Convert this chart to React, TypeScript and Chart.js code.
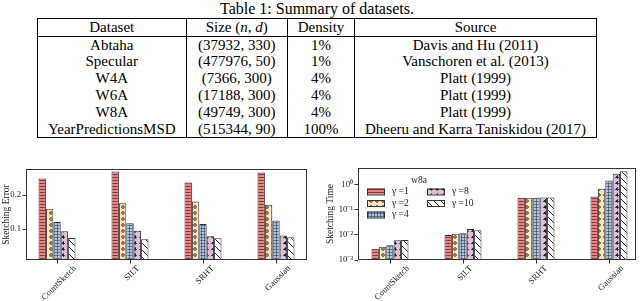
import React, { useEffect, useRef } from "react";
import { Chart, registerables } from "chart.js";

Chart.register(...registerables);

// ---------- table data ----------
const tableTitle = "Table 1: Summary of datasets.";
const datasetNames = ["Abtaha", "Specular", "W4A", "W6A", "W8A", "YearPredictionsMSD"];
const datasetSizes = ["(37932, 330)", "(477976, 50)", "(7366, 300)", "(17188, 300)", "(49749, 300)", "(515344, 90)"];
const datasetDensities = ["1%", "1%", "4%", "4%", "4%", "100%"];
const datasetSources = [
  "Davis and Hu (2011)",
  "Vanschoren et al. (2013)",
  "Platt (1999)",
  "Platt (1999)",
  "Platt (1999)",
  "Dheeru and Karra Taniskidou (2017)",
];

// ---------- chart data ----------
const methods = ["CountSketch", "SILT", "SRHT", "Gaussian"];
const gammaLabels = ["γ =1", "γ =2", "γ =4", "γ =8", "γ =10"];

const errGamma1 = [0.249, 0.27, 0.237, 0.267];
const errGamma2 = [0.16, 0.176, 0.181, 0.172];
const errGamma4 = [0.121, 0.117, 0.115, 0.125];
const errGamma8 = [0.094, 0.095, 0.079, 0.081];
const errGamma10 = [0.074, 0.07, 0.073, 0.076];

const timeGamma1 = [0.0028, 0.01, 0.3, 0.34];
const timeGamma2 = [0.0034, 0.011, 0.3, 0.69];
const timeGamma4 = [0.0039, 0.0117, 0.3, 1.45];
const timeGamma8 = [0.0061, 0.017, 0.31, 2.7];
const timeGamma10 = [0.0062, 0.0154, 0.31, 3.4];

const errTicks = [0.1, 0.2];
const errTickLabels = ["0.1", "0.2"];
const timeTicks = [0.001, 0.01, 0.1, 1];
const timeTickLabels = ["10⁻³", "10⁻²", "10⁻¹", "10⁰"];
const legendTitle = "w8a";

const FONT_FAMILY = '"Liberation Serif", "DejaVu Serif", serif';
const FONT_SIZE = 9.5;
const TICK_SIZE = 8.7;
const CANVAS_FONT = `${FONT_SIZE}px "Liberation Serif", serif`;
const TICK_FONT = `${TICK_SIZE}px "Liberation Serif", serif`;
const TEXT = "#222";
const EDGE = "#333";

function makePattern(kind: string): CanvasPattern | string {
  const c = document.createElement("canvas");
  const g = c.getContext("2d");
  if (!g) return "#ccc";
  if (kind === "h") {
    c.width = 4; c.height = 3;
    g.fillStyle = "#f27f7f"; g.fillRect(0, 0, 4, 3);
    g.fillStyle = "rgba(100,35,35,0.75)"; g.fillRect(0, 0, 4, 1);
  } else if (kind === "o") {
    c.width = 6; c.height = 6;
    g.fillStyle = "#fde3b3"; g.fillRect(0, 0, 6, 6);
    g.strokeStyle = "rgba(40,40,40,0.9)"; g.lineWidth = 1;
    g.beginPath(); g.arc(3, 3, 1.3, 0, Math.PI * 2); g.stroke();
  } else if (kind === "+") {
    c.width = 3; c.height = 3;
    g.fillStyle = "#a9c6e8"; g.fillRect(0, 0, 3, 3);
    g.fillStyle = "rgba(50,60,80,0.6)"; g.fillRect(0, 0, 3, 1); g.fillRect(0, 0, 1, 3);
  } else if (kind === "*") {
    c.width = 6; c.height = 6;
    g.fillStyle = "#dcbedc"; g.fillRect(0, 0, 6, 6);
    g.fillStyle = "rgba(30,30,30,0.9)";
    g.fillRect(2, 2, 2, 2);
    g.fillRect(3, 1, 0.8, 4);
    g.fillRect(1, 3, 4, 0.8);
  } else {
    c.width = 7; c.height = 7;
    g.fillStyle = "#ffffff"; g.fillRect(0, 0, 7, 7);
    g.strokeStyle = "#222"; g.lineWidth = 1;
    for (const k of [-7, 0, 7]) {
      g.beginPath(); g.moveTo(-1, -1 + k); g.lineTo(8, 8 + k); g.stroke();
    }
  }
  return g.createPattern(c, "repeat") || "#ccc";
}

const font = { family: FONT_FAMILY, size: FONT_SIZE };

// frame, x tick marks and tick labels, placed through the chart's own scales
function makeAxesPlugin(yTicks: number[], yLabels: string[]) {
  return {
    id: "axesDecor",
    afterDraw(chart: any) {
      const { ctx, chartArea: a, scales } = chart;
      ctx.save();
      ctx.strokeStyle = EDGE;
      ctx.lineWidth = 1;
      ctx.strokeRect(a.left + 0.5, a.top + 0.5, a.right - a.left - 1, a.bottom - a.top - 1);
      for (let i = 0; i < methods.length; i++) {
        const x = Math.round(scales.x.getPixelForValue(i)) + 0.5;
        ctx.beginPath();
        ctx.moveTo(x, a.bottom);
        ctx.lineTo(x, a.bottom + 3.5);
        ctx.stroke();
      }
      ctx.font = TICK_FONT;
      ctx.fillStyle = TEXT;
      ctx.textAlign = "right";
      ctx.textBaseline = "middle";
      yTicks.forEach((v, i) => {
        const y = scales.y.getPixelForValue(v);
        ctx.fillText(yLabels[i], a.left - 5, y);
      });
      const h = TICK_SIZE;
      methods.forEach((m, i) => {
        const w = ctx.measureText(m).width;
        const tx = scales.x.getPixelForValue(i) + 2;
        ctx.save();
        ctx.translate(tx + 0.3536 * w, a.bottom + 4 + 0.3536 * h);
        ctx.rotate(-Math.PI / 4);
        ctx.textAlign = "right";
        ctx.textBaseline = "middle";
        ctx.fillText(m, 0, 0);
        ctx.restore();
      });
      ctx.restore();
    },
  };
}

function makeLegendPlugin(patterns: (CanvasPattern | string)[]) {
  return {
    id: "gammaLegend",
    afterDraw(chart: any) {
      const { ctx } = chart;
      ctx.save();
      ctx.font = CANVAS_FONT;
      ctx.fillStyle = TEXT;
      ctx.textBaseline = "middle";
      ctx.textAlign = "center";
      ctx.fillText(legendTitle, 99, 30);
      ctx.textAlign = "left";
      const pos = [
        [47, 41.5], [47, 53], [47, 64.5], [107, 41.5], [107, 53],
      ];
      gammaLabels.forEach((lab, k) => {
        const [px, py] = pos[k];
        ctx.fillStyle = patterns[k];
        ctx.fillRect(px, py - 3, 17, 6);
        ctx.strokeStyle = EDGE;
        ctx.lineWidth = 1;
        ctx.strokeRect(px + 0.5, py - 3 + 0.5, 17, 6);
        ctx.fillStyle = TEXT;
        ctx.fillText(lab, px + 25, py);
      });
      ctx.restore();
    },
  };
}

function barConfig(
  series: number[][],
  patterns: (CanvasPattern | string)[],
  opts: {
    xmin: number; xmax: number; yType: string; ymin: number; ymax: number;
    yTicks: number[]; yLabels: string[]; yTitle: string; titlePad: number;
    yWidth: number; padTop: number; padRight: number; extraPlugins: any[];
  }
): any {
  return {
    type: "bar",
    data: {
      datasets: series.map((s, k) => ({
        label: gammaLabels[k],
        data: s.map((v, i) => ({ x: i, y: v })),
        backgroundColor: patterns[k],
        borderColor: EDGE,
        borderWidth: 1,
        categoryPercentage: 0.507,
        barPercentage: 1,
        clip: 0,
      })),
    },
    options: {
      animation: false,
      responsive: false,
      devicePixelRatio: 1,
      layout: { padding: { top: opts.padTop, right: opts.padRight, left: 0, bottom: 0 } },
      plugins: { legend: { display: false }, tooltip: { enabled: false } },
      scales: {
        x: {
          type: "linear",
          min: opts.xmin,
          max: opts.xmax,
          offset: false,
          grid: { display: false },
          border: { display: false },
          ticks: { display: false },
          afterFit: (s: any) => { s.height = 41; },
        },
        y: {
          type: opts.yType,
          min: opts.ymin,
          max: opts.ymax,
          grid: { display: true, drawOnChartArea: false, drawTicks: true, tickLength: 3.5, color: EDGE },
          border: { display: false },
          ticks: { display: false, autoSkip: false },
          afterBuildTicks: (s: any) => {
            s.ticks = opts.yTicks.map((v) => ({ value: v }));
          },
          title: {
            display: true,
            text: opts.yTitle,
            font,
            color: TEXT,
            padding: { top: opts.titlePad, bottom: 0 },
          },
          afterFit: (s: any) => { s.width = opts.yWidth; },
        },
      },
    },
    plugins: [makeAxesPlugin(opts.yTicks, opts.yLabels), ...opts.extraPlugins],
  };
}

const cellBase: React.CSSProperties = {
  padding: 0,
  textAlign: "center",
  whiteSpace: "nowrap",
  lineHeight: 1,
  borderLeft: "1px solid #000",
  borderRight: "1px solid #000",
};

export default function App() {
  const leftRef = useRef<HTMLCanvasElement>(null);
  const rightRef = useRef<HTMLCanvasElement>(null);

  useEffect(() => {
    const kinds = ["h", "o", "+", "*", "\\"];
    const patterns = kinds.map(makePattern);
    const c1 = new Chart(
      leftRef.current as HTMLCanvasElement,
      barConfig([errGamma1, errGamma2, errGamma4, errGamma8, errGamma10], patterns, {
        xmin: -0.425, xmax: 3.425, yType: "linear", ymin: 0.009, ymax: 0.277,
        yTicks: errTicks, yLabels: errTickLabels, yTitle: "Sketching Error", titlePad: 0.5,
        yWidth: 26, padTop: 19, padRight: 8, extraPlugins: [],
      })
    );
    const c2 = new Chart(
      rightRef.current as HTMLCanvasElement,
      barConfig([timeGamma1, timeGamma2, timeGamma4, timeGamma8, timeGamma10], patterns, {
        xmin: -0.438, xmax: 3.37, yType: "logarithmic", ymin: 0.001, ymax: 4.6,
        yTicks: timeTicks, yLabels: timeTickLabels, yTitle: "Sketching Time", titlePad: 5,
        yWidth: 38, padTop: 18, padRight: 4, extraPlugins: [makeLegendPlugin(patterns)],
      })
    );
    return () => {
      c1.destroy();
      c2.destroy();
    };
  }, []);

  const rowH = 16.9;
  return (
    <div style={{ position: "absolute", left: 0, top: 0, width: 640, height: 301, background: "#fff", overflow: "hidden" }}>
      <div
        style={{
          position: "absolute", left: 0, top: 0, width: 634, textAlign: "center",
          fontFamily: FONT_FAMILY, fontSize: 16, lineHeight: "17px", color: "#000",
        }}
      >
        {tableTitle}
      </div>
      <table
        style={{
          position: "absolute", left: 37, top: 18, width: 559, borderCollapse: "collapse",
          tableLayout: "fixed", fontFamily: FONT_FAMILY, fontSize: 15, color: "#000",
          border: "1px solid #000",
        }}
      >
        <colgroup>
          <col style={{ width: 148.5 }} />
          <col style={{ width: 101.5 }} />
          <col style={{ width: 67 }} />
          <col style={{ width: 242 }} />
        </colgroup>
        <thead>
          <tr style={{ height: 18 }}>
            <td style={{ ...cellBase, borderBottom: "1px solid #000" }}>Dataset</td>
            <td style={{ ...cellBase, borderBottom: "1px solid #000" }}>
              Size (<i>n</i>, <i>d</i>)
            </td>
            <td style={{ ...cellBase, borderBottom: "1px solid #000" }}>Density</td>
            <td style={{ ...cellBase, borderBottom: "1px solid #000" }}>Source</td>
          </tr>
        </thead>
        <tbody>
          {datasetNames.map((name, i) => (
            <tr key={name} style={{ height: rowH }}>
              <td style={cellBase}>{name}</td>
              <td style={cellBase}>{datasetSizes[i]}</td>
              <td style={cellBase}>{datasetDensities[i]}</td>
              <td style={cellBase}>{datasetSources[i]}</td>
            </tr>
          ))}
        </tbody>
      </table>
      <canvas
        ref={leftRef}
        width={315}
        height={151}
        style={{ position: "absolute", left: 0, top: 150, width: 315, height: 151 }}
      />
      <canvas
        ref={rightRef}
        width={320}
        height={151}
        style={{ position: "absolute", left: 320, top: 150, width: 320, height: 151 }}
      />
    </div>
  );
}
